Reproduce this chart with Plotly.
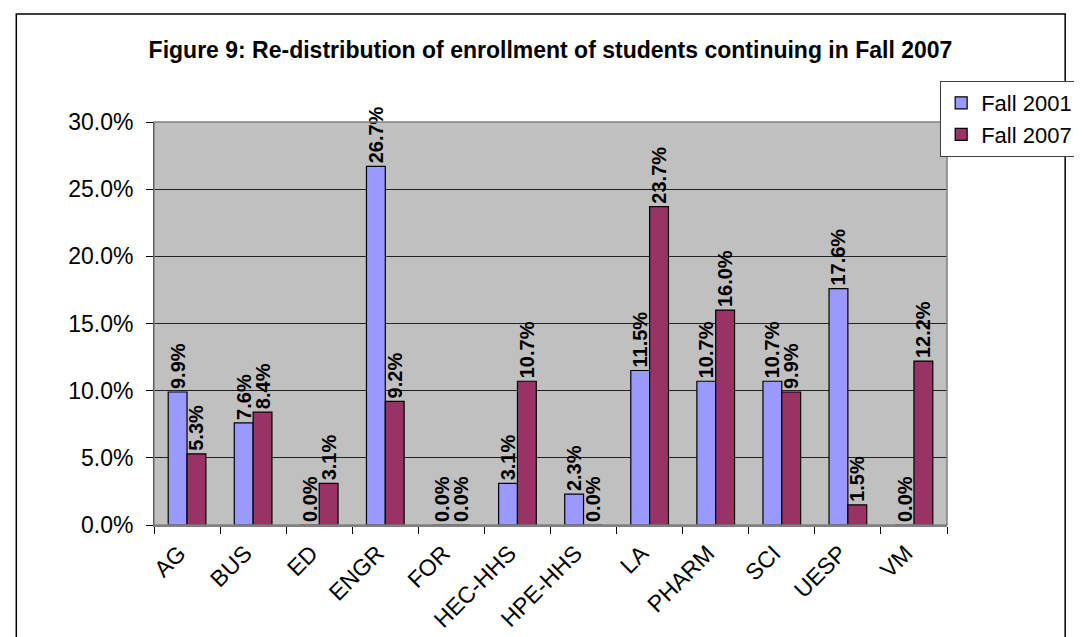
import plotly.graph_objects as go

categories = ["AG", "BUS", "ED", "ENGR", "FOR", "HEC-HHS", "HPE-HHS", "LA", "PHARM", "SCI", "UESP", "VM"]
fall_2001 = [0.099, 0.076, 0.000, 0.267, 0.000, 0.031, 0.023, 0.115, 0.107, 0.107, 0.176, 0.000]
fall_2007 = [0.053, 0.084, 0.031, 0.092, 0.000, 0.107, 0.000, 0.237, 0.160, 0.099, 0.015, 0.122]
y_ticks = [0.0, 0.05, 0.10, 0.15, 0.20, 0.25, 0.30]

FONT = "Liberation Sans, Arial, sans-serif"
W, H = 1082, 637
L, R, T, B = 146, 958, 114, 517
pw, ph = R - L, B - T

def px_x(p):
    return (p - L) / pw

def px_y(p):
    return (B - p) / ph

fig = go.Figure()
for name, vals, col in [("Fall 2001", fall_2001, "#9999FF"), ("Fall 2007", fall_2007, "#993366")]:
    fig.add_trace(go.Bar(
        x=categories, y=vals, name=name,
        marker=dict(color=col, line=dict(color="black", width=1.2)),
        texttemplate="<b>%{y:.1%}</b>", textposition="outside", textangle=-90,
        textfont=dict(family=FONT, size=20, color="black"),
        constraintext="none", cliponaxis=False,
    ))

fig.update_layout(
    width=W, height=H,
    margin=dict(l=L, r=W - R, t=T, b=H - B),
    paper_bgcolor="white", plot_bgcolor="#C0C0C0",
    barmode="group", bargap=0.43, bargroupgap=0,
    font=dict(family=FONT, color="black"),
    title=dict(text="<b>Figure 9: Re-distribution of enrollment of students continuing in Fall 2007</b>",
               x=0.5, xref="paper", xanchor="center", y=1 - 42 / H, yref="container", yanchor="middle",
               font=dict(family=FONT, size=23, color="black")),
    legend=dict(x=px_x(951), y=px_y(73), xanchor="left", yanchor="top",
                bgcolor="white", bordercolor="#404040", borderwidth=1,
                font=dict(family=FONT, size=22, color="black"),
                itemwidth=30, tracegroupgap=4),
    showlegend=True,
)
fig.update_xaxes(
    type="category", tickson="boundaries", ticks="outside", ticklen=7, tickcolor="black",
    tickangle=-45, tickfont=dict(family=FONT, size=23, color="black"),
    ticklabelshift=-8, ticklabelstandoff=4,
    showline=True, linecolor="#808080", linewidth=1.5, showgrid=False,
)
fig.update_yaxes(
    range=[0, 0.30], tickvals=y_ticks, tickformat=".1%", ticks="outside", ticklen=7, tickcolor="black",
    tickfont=dict(family=FONT, size=23, color="black"), ticklabelstandoff=8,
    showline=True, linecolor="black", linewidth=1,
    showgrid=True, gridcolor="#222222", gridwidth=1, zeroline=False,
)
# plot area border and chart border
fig.add_shape(type="rect", xref="paper", yref="paper", x0=0, y0=0, x1=1, y1=1,
              line=dict(color="#808080", width=1.5), layer="above")
fig.add_shape(type="rect", xref="paper", yref="paper",
              x0=px_x(5), y0=px_y(660), x1=px_x(1079), y1=px_y(6),
              line=dict(color="black", width=1.5))

fig.write_html("out.html")
